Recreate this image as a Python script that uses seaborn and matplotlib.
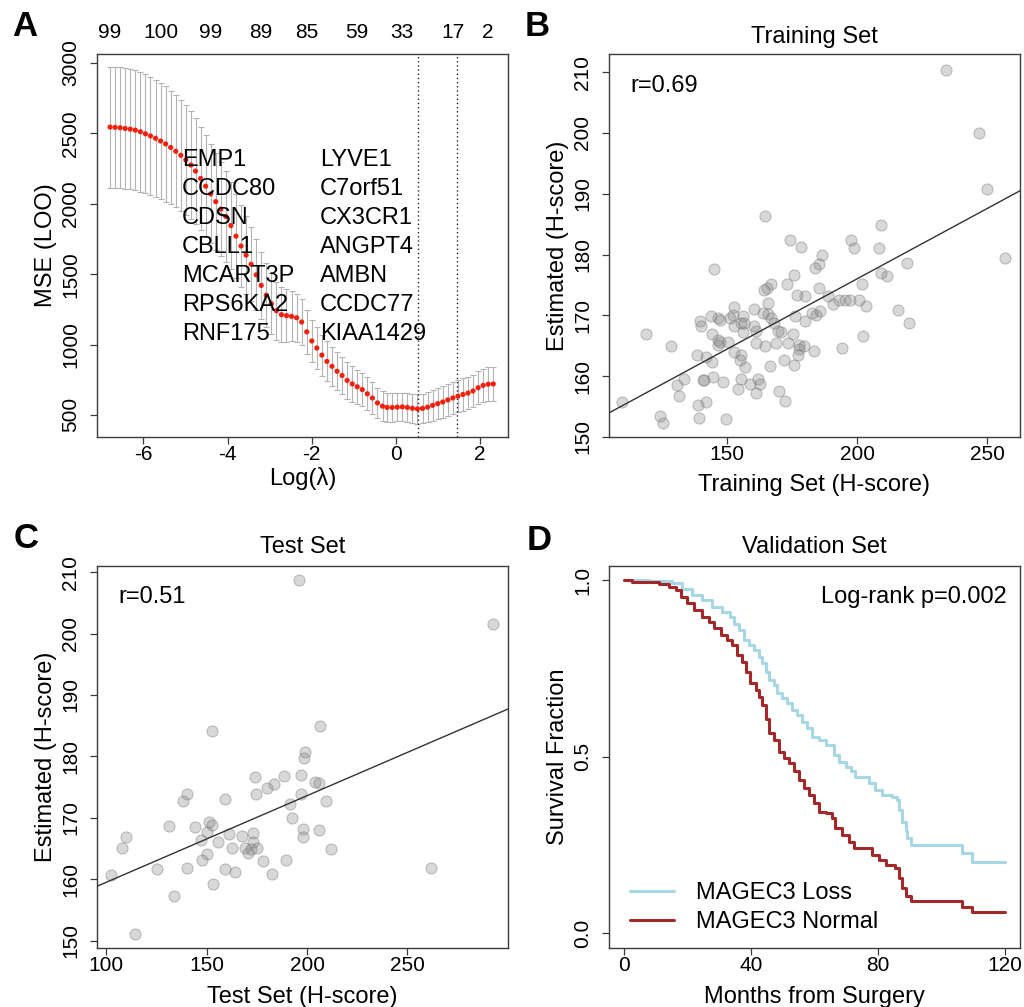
import numpy as np
import pandas as pd
import matplotlib
matplotlib.use("Agg")
import matplotlib.pyplot as plt
import seaborn as sns

# ---------------- Panel A data (LOO cross-validation curve) ----------------
log_lambda = [-6.79, -6.67, -6.55, -6.43, -6.31, -6.19, -6.07, -5.95, -5.83, -5.71,
              -5.59, -5.47, -5.35, -5.23, -5.11, -4.99, -4.87, -4.76, -4.64, -4.52,
              -4.40, -4.28, -4.16, -4.04, -3.92, -3.80, -3.68, -3.56, -3.44, -3.32,
              -3.20, -3.08, -2.96, -2.84, -2.72, -2.60, -2.48, -2.36, -2.24, -2.12,
              -2.00, -1.88, -1.76, -1.64, -1.52, -1.40, -1.28, -1.16, -1.04, -0.92,
              -0.80, -0.68, -0.56, -0.44, -0.32, -0.21, -0.09, 0.03, 0.15, 0.27,
              0.39, 0.51, 0.63, 0.75, 0.87, 0.99, 1.11, 1.23, 1.35, 1.47,
              1.59, 1.71, 1.83, 1.95, 2.07, 2.19, 2.31]
mse = [2545, 2543, 2540, 2535, 2530, 2523, 2512, 2497, 2482, 2465,
       2446, 2425, 2400, 2373, 2344, 2312, 2275, 2232, 2180, 2125,
       2070, 2015, 1962, 1910, 1845, 1770, 1700, 1635, 1570, 1495,
       1420, 1350, 1290, 1240, 1212, 1205, 1200, 1190, 1160, 1090,
       1025, 975, 925, 880, 845, 810, 780, 745, 720, 700,
       680, 650, 620, 585, 562, 553, 553, 555, 557, 553,
       547, 543, 546, 555, 568, 580, 592, 606, 620, 633,
       645, 655, 670, 693, 710, 718, 720]
mse_se = [430, 430, 429, 428, 427, 426, 425, 424, 420, 416,
          413, 409, 404, 399, 394, 389, 382, 375, 368, 361,
          352, 343, 333, 323, 312, 300, 288, 276, 264, 252,
          240, 228, 217, 207, 197, 187, 178, 171, 165, 158,
          152, 149, 146, 142, 139, 135, 132, 129, 125, 122,
          119, 116, 112, 109, 106, 104, 102, 100, 101, 102,
          104, 105, 106, 107, 109, 110, 111, 112, 114, 115,
          116, 116, 117, 118, 118, 119, 120]
lambda_min_log = 0.52
lambda_1se_log = 1.45
nzero_idx = [0, 10, 20, 30, 39, 49, 58, 68, 75]
nzero_labels = ["99", "100", "99", "89", "85", "59", "33", "17", "2"]
genes_left = ["EMP1", "CCDC80", "CDSN", "CBLL1", "MCART3P", "RPS6KA2", "RNF175"]
genes_right = ["LYVE1", "C7orf51", "CX3CR1", "ANGPT4", "AMBN", "CCDC77", "KIAA1429"]

# ---------------- Panel B data (training set) ----------------
train_x = [234.2, 246.9, 250.1, 257.0, 164.5, 209.2, 174.4, 178.3, 197.5, 198.8,
           208.5, 186.4, 185.5, 183.8, 145.1, 219.1, 175.6, 209.2, 211.4, 173.1,
           167.1, 165.4, 164.3, 201.9, 185.3, 177.1, 180.0, 188.8, 192.9, 197.4,
           195.5, 200.6, 190.6, 203.5, 165.8, 152.8, 160.2, 163.8, 165.8, 167.1,
           215.6, 220.0, 185.8, 182.6, 184.1, 176.1, 180.0, 139.5, 143.8, 139.9,
           146.4, 147.2, 151.3, 152.2, 156.2, 155.4, 152.8, 156.7, 160.2, 161.2,
           156.2, 168.0, 170.9, 175.2, 169.6, 144.3, 119.0, 128.4, 146.4, 147.4,
           146.4, 150.3, 161.2, 164.5, 168.8, 173.4, 177.8, 179.8, 183.6, 177.8,
           194.3, 202.2, 138.6, 141.9, 144.2, 152.8, 155.2, 154.8, 156.8, 166.4,
           171.8, 175.8, 177.4, 133.5, 130.6, 131.4, 140.8, 141.2, 144.6, 148.6,
           155.4, 154.1, 158.8, 161.9, 162.8, 161.0, 169.9, 172.4, 109.6, 138.9,
           141.9, 124.4, 125.2, 139.4, 149.7]
train_y = [210.3, 199.9, 190.8, 179.5, 186.3, 184.9, 182.4, 181.3, 182.4, 181.0,
           181.0, 179.9, 178.4, 177.8, 177.7, 178.6, 176.7, 177.0, 176.4, 175.1,
           175.1, 174.5, 174.2, 175.1, 174.5, 173.4, 173.1, 173.1, 172.6, 172.6,
           172.5, 172.6, 171.8, 171.5, 172.1, 171.3, 171.1, 170.4, 170.2, 169.5,
           170.9, 168.8, 170.7, 170.4, 170.0, 169.9, 169.1, 169.1, 169.9, 168.2,
           169.6, 169.3, 169.6, 170.0, 169.9, 168.8, 168.3, 168.8, 168.3, 167.5,
           167.3, 168.8, 167.2, 167.0, 167.5, 166.9, 166.9, 165.0, 166.0, 165.6,
           165.2, 165.6, 165.5, 165.0, 165.5, 165.5, 165.2, 165.0, 164.2, 164.4,
           164.7, 166.6, 163.4, 163.1, 162.4, 163.9, 163.5, 162.7, 161.5, 161.7,
           162.7, 161.9, 163.4, 159.6, 158.6, 156.7, 159.4, 159.3, 159.8, 159.1,
           159.6, 157.9, 158.7, 159.6, 158.7, 157.3, 157.5, 156.0, 155.7, 155.2,
           155.7, 153.5, 152.3, 153.2, 153.0]
train_fit_intercept = 129.8
train_fit_slope = 0.231
train_r_label = "r=0.69"

# ---------------- Panel C data (test set) ----------------
test_x = [195.8, 292.4, 152.5, 206.6, 198.8, 198.3, 173.9, 188.6, 196.8, 180.0,
          183.8, 174.7, 204.2, 206.2, 197.1, 140.3, 138.3, 159.1, 209.7, 191.3,
          192.6, 131.5, 144.2, 151.3, 152.5, 150.3, 198.1, 206.1, 198.1, 110.0,
          107.8, 147.3, 155.9, 161.1, 162.6, 167.7, 169.1, 172.9, 173.2, 174.9,
          170.6, 172.0, 212.1, 150.3, 147.5, 177.9, 189.6, 125.1, 140.3, 159.3,
          164.1, 182.7, 261.7, 102.5, 153.1, 133.9, 114.3]
test_y = [208.8, 201.5, 184.1, 184.9, 180.7, 179.8, 176.6, 176.8, 177.0, 174.9,
          175.5, 173.8, 175.9, 175.7, 173.8, 173.8, 172.8, 173.0, 172.7, 172.3,
          169.9, 168.6, 168.5, 169.3, 168.9, 167.7, 168.1, 168.0, 166.9, 166.9,
          165.1, 166.4, 166.1, 167.3, 165.1, 167.0, 165.1, 167.5, 166.1, 165.1,
          164.2, 164.9, 165.0, 164.1, 163.1, 163.0, 163.1, 161.7, 161.8, 161.7,
          161.1, 160.9, 161.8, 160.7, 159.2, 157.2, 151.1]
test_fit_intercept = 145.4
test_fit_slope = 0.141
test_r_label = "r=0.51"

# ---------------- Panel D data (validation set, Kaplan-Meier) ----------------
loss_months = [0, 7.8, 15.1, 18.3, 21.4, 24.6, 27.7, 30.9, 33.5, 34.6,
               36.1, 37.7, 39.3, 40.9, 42.5, 43.5, 44.6, 45.6, 47.2, 48.2,
               49.8, 51.4, 53.0, 54.5, 56.1, 57.7, 59.3, 61.4, 63.5, 66.1,
               67.7, 69.8, 71.4, 72.9, 77.1, 79.2, 81.3, 84.5, 86.1, 86.6,
               87.6, 88.7, 89.2, 90.3, 106.6, 109.7, 120.0]
loss_surv = [1.0, 0.997, 0.991, 0.976, 0.958, 0.943, 0.925, 0.910, 0.896, 0.877,
             0.858, 0.830, 0.816, 0.802, 0.783, 0.764, 0.741, 0.717, 0.703, 0.679,
             0.665, 0.651, 0.632, 0.618, 0.599, 0.580, 0.557, 0.547, 0.533, 0.505,
             0.486, 0.472, 0.458, 0.443, 0.425, 0.406, 0.392, 0.387, 0.377, 0.349,
             0.316, 0.288, 0.269, 0.250, 0.226, 0.203, 0.203]
normal_months = [0, 2.5, 10.9, 14.1, 16.2, 17.8, 19.9, 22.0, 24.6, 26.7,
                 28.3, 30.4, 32.5, 34.0, 35.6, 37.2, 38.3, 39.8, 41.4, 42.5,
                 43.5, 44.6, 45.6, 47.2, 48.8, 50.3, 51.9, 53.5, 55.1, 56.6,
                 58.2, 59.8, 61.4, 63.5, 65.6, 66.6, 68.7, 70.8, 72.4, 78.2,
                 80.3, 82.4, 85.5, 86.6, 87.6, 88.7, 90.3, 106.6, 109.7, 120.0]
normal_surv = [1.0, 0.995, 0.988, 0.981, 0.972, 0.953, 0.934, 0.915, 0.896, 0.882,
               0.863, 0.844, 0.830, 0.816, 0.788, 0.769, 0.741, 0.708, 0.689, 0.670,
               0.646, 0.608, 0.566, 0.547, 0.514, 0.495, 0.481, 0.458, 0.434, 0.410,
               0.392, 0.368, 0.344, 0.340, 0.325, 0.297, 0.278, 0.259, 0.241, 0.222,
               0.208, 0.193, 0.184, 0.156, 0.127, 0.104, 0.090, 0.075, 0.061, 0.061]
group_names = ["MAGEC3 Loss", "MAGEC3 Normal"]
logrank_label = "Log-rank p=0.002"

# ---------------- Style ----------------
sns.set_theme(style="white")
plt.rcParams["font.family"] = ["Liberation Sans", "DejaVu Sans"]
plt.rcParams["axes.linewidth"] = 1.0
plt.rcParams["text.color"] = "black"
plt.rcParams["axes.labelcolor"] = "black"
plt.rcParams["xtick.color"] = "black"
plt.rcParams["ytick.color"] = "black"

W, H = 1024, 1007
fig = plt.figure(figsize=(W / 100, H / 100), dpi=100)
fig.patch.set_facecolor("white")

FRAME = "#3c3c3c"
TICK_FS = 15
LAB_FS = 17


def make_axes(l, t, r, b):
    return fig.add_axes([l / W, 1 - b / H, (r - l) / W, (b - t) / H])


def style_axes(ax, xlabel, ylabel, xlab_base):
    for s in ax.spines.values():
        s.set_visible(True)
        s.set_color(FRAME)
        s.set_linewidth(1.0)
    ax.tick_params(direction="out", length=5, width=0.9, color=FRAME,
                   labelsize=TICK_FS, labelcolor="black",
                   bottom=True, left=True, top=False, right=False)
    ax.tick_params(axis="x", pad=1.0)
    ax.tick_params(axis="y", pad=7, labelrotation=90)
    for lbl in ax.get_yticklabels():
        lbl.set_va("center")
    ax.grid(False)
    ax.set_xlabel(xlabel, fontsize=LAB_FS, color="black")
    ax.set_ylabel(ylabel, fontsize=LAB_FS, color="black")
    ax.xaxis.set_label_coords(0.5, xlab_base)
    ax.xaxis.label.set_va("baseline")
    ax.yaxis.set_label_coords(-0.1095, 0.5)
    ax.yaxis.label.set_va("baseline")


# ---------------- Panel A ----------------
axA = make_axes(97, 54, 508, 437)
axA.errorbar(log_lambda, mse, yerr=mse_se, fmt="none", ecolor="#b3b3b3",
             elinewidth=0.8, capsize=2.4, capthick=0.8, zorder=1)
sns.scatterplot(x=log_lambda, y=mse, ax=axA, color="#f2200f", s=14,
                edgecolor="none", linewidth=0, zorder=3)
axA.axvline(lambda_min_log, color="#222222", ls=(0, (1, 2)), lw=1.0, zorder=2)
axA.axvline(lambda_1se_log, color="#222222", ls=(0, (1, 2)), lw=1.0, zorder=2)
axA.set_xlim(-7.10, 2.66)
axA.set_ylim(343, 3064)
axA.set_xticks([-6, -4, -2, 0, 2])
axA.set_yticks([500, 1000, 1500, 2000, 2500, 3000])
axA.set_xticklabels(["-6", "-4", "-2", "0", "2"])
axA.set_yticklabels(["500", "1000", "1500", "2000", "2500", "3000"])
style_axes(axA, "Log(\u03bb)", "MSE (LOO)", -0.1253)
for i, lab in zip(nzero_idx, nzero_labels):
    axA.text(log_lambda[i], 1.041, lab, transform=axA.get_xaxis_transform(),
             ha="center", va="baseline", fontsize=TICK_FS)
for k, (gl, gr) in enumerate(zip(genes_left, genes_right)):
    yb = 2266 - 206 * k
    axA.text(-5.08, yb, gl, ha="left", va="baseline", fontsize=LAB_FS, zorder=4)
    axA.text(-1.81, yb, gr, ha="left", va="baseline", fontsize=LAB_FS, zorder=4)

# ---------------- Panel B ----------------
pt_face = (0.5, 0.5, 0.5, 0.30)
pt_edge = (0.45, 0.45, 0.45, 0.40)
axB = make_axes(609, 54, 1020, 437)
sns.scatterplot(x=train_x, y=train_y, ax=axB, s=64, color=pt_face,
                edgecolor=pt_edge, linewidth=0.8, zorder=2)
axB.axline((0, train_fit_intercept), slope=train_fit_slope, color="#333333",
           lw=1.0, zorder=3)
axB.set_xlim(104.6, 262.7)
axB.set_ylim(150.0, 212.97)
axB.set_xticks([150, 200, 250])
axB.set_yticks([150, 160, 170, 180, 190, 200, 210])
axB.set_yticklabels(["150", "160", "170", "180", "190", "200", "210"])
style_axes(axB, "Training Set (H-score)", "Estimated (H-score)", -0.141)
axB.text(0.051, 0.9016, train_r_label, transform=axB.transAxes,
         ha="left", va="baseline", fontsize=LAB_FS)
axB.text(0.5, 1.0287, "Training Set", transform=axB.transAxes,
         ha="center", va="baseline", fontsize=LAB_FS)

# ---------------- Panel C ----------------
axC = make_axes(97, 566, 508, 948)
sns.scatterplot(x=test_x, y=test_y, ax=axC, s=64, color=pt_face,
                edgecolor=pt_edge, linewidth=0.8, zorder=2)
axC.axline((0, test_fit_intercept), slope=test_fit_slope, color="#333333",
           lw=1.0, zorder=3)
axC.set_xlim(95.4, 300.1)
axC.set_ylim(148.8, 211.0)
axC.set_xticks([100, 150, 200, 250])
axC.set_yticks([150, 160, 170, 180, 190, 200, 210])
axC.set_yticklabels(["150", "160", "170", "180", "190", "200", "210"])
style_axes(axC, "Test Set (H-score)", "Estimated (H-score)", -0.144)
axC.text(0.053, 0.903, test_r_label, transform=axC.transAxes,
         ha="left", va="baseline", fontsize=LAB_FS)
axC.text(0.5, 1.034, "Test Set", transform=axC.transAxes,
         ha="center", va="baseline", fontsize=LAB_FS)

# ---------------- Panel D ----------------
axD = make_axes(609, 566, 1020, 948)
sns.lineplot(x=loss_months, y=loss_surv, ax=axD, color="#a7d6e4", lw=2.2,
             drawstyle="steps-post", estimator=None, sort=False,
             label=group_names[0])
sns.lineplot(x=normal_months, y=normal_surv, ax=axD, color="#a3282a", lw=2.2,
             drawstyle="steps-post", estimator=None, sort=False,
             label=group_names[1])
axD.set_xlim(-4.8, 124.8)
axD.set_ylim(-0.042, 1.04)
axD.set_xticks([0, 40, 80, 120])
axD.set_yticks([0.0, 0.5, 1.0])
axD.set_yticklabels(["0.0", "0.5", "1.0"])
style_axes(axD, "Months from Surgery", "Survival Fraction", -0.144)
axD.legend(loc="lower left", bbox_to_anchor=(0.052, 0.038), frameon=False,
           fontsize=LAB_FS, handlelength=1.85, handletextpad=0.95,
           labelspacing=0.3, borderpad=0.0, borderaxespad=0.0)
axD.text(0.968, 0.902, logrank_label, transform=axD.transAxes,
         ha="right", va="baseline", fontsize=LAB_FS)
axD.text(0.5, 1.034, "Validation Set", transform=axD.transAxes,
         ha="center", va="baseline", fontsize=LAB_FS)

# ---------------- Panel letters ----------------
for letter, x, y in [("A", 12, 26), ("B", 525, 26), ("C", 14, 538), ("D", 527, 540)]:
    fig.text(x / W, 1 - y / H, letter, ha="left", va="center",
             fontsize=25, fontweight="bold", color="black")

fig.savefig("out.png", dpi=100, facecolor="white")
